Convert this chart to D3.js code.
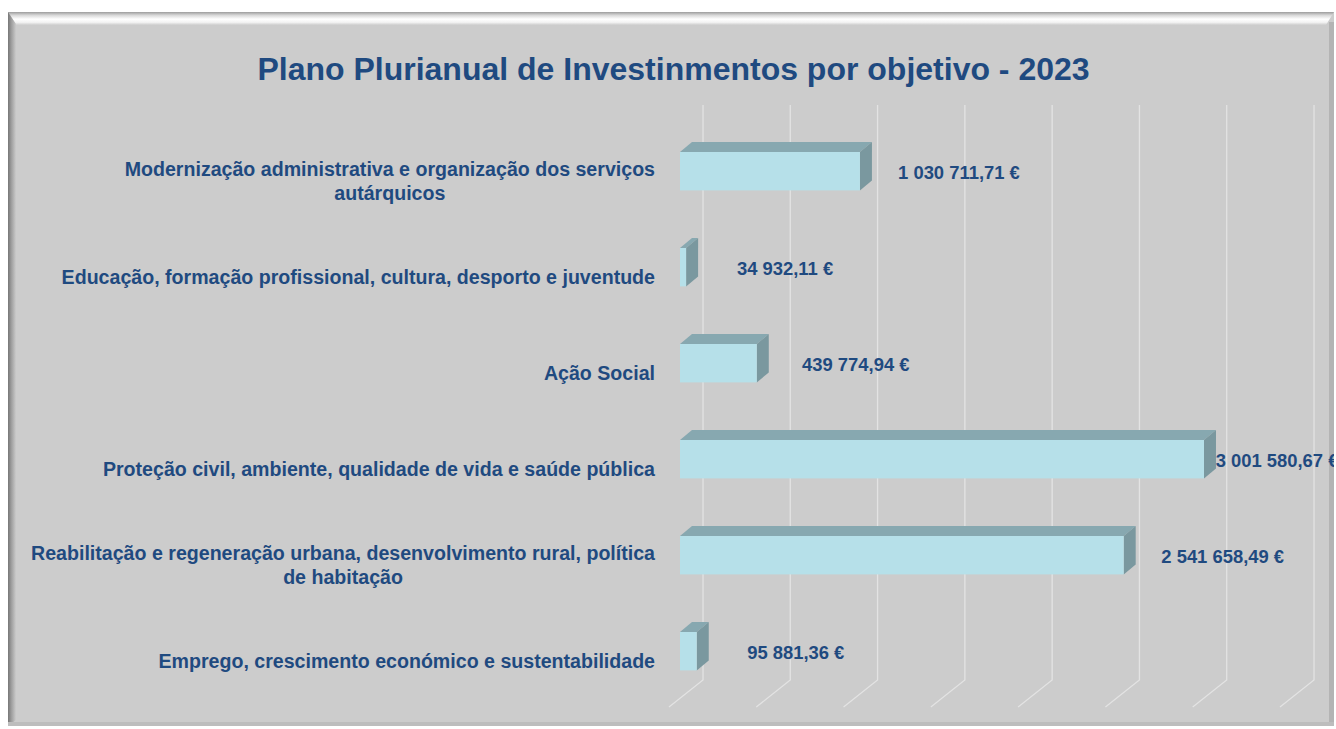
<!DOCTYPE html>
<html><head><meta charset="utf-8">
<script src="https://cdn.jsdelivr.net/npm/d3@7"></script>
<style>
html,body{margin:0;padding:0;background:#fff;}
svg{display:block;}
</style></head>
<body>
<svg id="c" width="1336" height="729"></svg>
<script>
const title = "Plano Plurianual de Investinmentos por objetivo - 2023";
const categories = [
  ["Modernização administrativa e organização dos serviços", "autárquicos"],
  ["Educação, formação profissional, cultura, desporto e juventude"],
  ["Ação Social"],
  ["Proteção civil, ambiente, qualidade de vida e saúde pública"],
  ["Reabilitação e regeneração urbana, desenvolvimento rural, política", "de habitação"],
  ["Emprego, crescimento económico e sustentabilidade"]
];
const values = [1030711.71, 34932.11, 439774.94, 3001580.67, 2541658.49, 95881.36];
const valueLabels = ["1 030 711,71 €", "34 932,11 €", "439 774,94 €", "3 001 580,67 €", "2 541 658,49 €", "95 881,36 €"];
const gridTicks = [0, 500000, 1000000, 1500000, 2000000, 2500000, 3000000, 3500000];

const W = 1336, H = 729;
const svg = d3.select("#c");
const ink = "#1f4a80";
const FF = "Liberation Sans, Arial, sans-serif";

// panel + bevel frame
const defs = svg.append("defs");
const lg = defs.append("linearGradient").attr("id","lsh").attr("x1",0).attr("x2",1).attr("y1",0).attr("y2",0);
lg.append("stop").attr("offset",0).attr("stop-color","#777777");
lg.append("stop").attr("offset",0.45).attr("stop-color","#a0a0a0");
lg.append("stop").attr("offset",1).attr("stop-color","#cbcbcb");
const tg = defs.append("linearGradient").attr("id","tsh").attr("x1",0).attr("x2",0).attr("y1",0).attr("y2",1);
tg.append("stop").attr("offset",0).attr("stop-color","#9c9c9c");
tg.append("stop").attr("offset",0.25).attr("stop-color","#d8d8d8");
tg.append("stop").attr("offset",0.55).attr("stop-color","#ffffff");
tg.append("stop").attr("offset",0.8).attr("stop-color","#f2f2f2");
tg.append("stop").attr("offset",1).attr("stop-color","#cdcdcd");

svg.append("rect").attr("x",0).attr("y",0).attr("width",W).attr("height",H).attr("fill","#ffffff");
svg.append("rect").attr("x",8).attr("y",12).attr("width",1326).attr("height",714).attr("fill","#cccccc");
svg.append("polygon").attr("points","8,12 1334,12 1326,25 16,25").attr("fill","url(#tsh)");
svg.append("polygon").attr("points","8,12 16,24 16,720 8,726").attr("fill","url(#lsh)");
svg.append("rect").attr("x",1329).attr("y",22).attr("width",5).attr("height",704).attr("fill","#b4b4b4");
svg.append("rect").attr("x",8).attr("y",722).attr("width",1326).attr("height",4).attr("fill","#bdbdbd");

svg.append("text").attr("x",673.5).attr("y",80).attr("text-anchor","middle")
  .attr("font-family",FF).attr("font-weight","bold")
  .attr("font-size",32).attr("fill",ink).text(title);

// scales
const x = d3.scaleLinear().domain([0, 3500000]).range([680, 1291]);
const y = d3.scaleBand().domain(d3.range(categories.length)).range([123.2, 699.2]).paddingInner(0.6).paddingOuter(0.3);

// depth offsets (3D)
const gdx = 23;              // back wall offset relative to bar front
const bdx = 12, bdy = -10;   // bar depth

// gridlines
const gTop = 105, gBot = 680;
const grid = svg.append("g");
gridTicks.forEach(t => {
  const bx = x(t) + gdx;
  grid.append("polyline")
    .attr("points", `${bx},${gTop} ${bx},${gBot} ${x(t)-11},${gBot+27}`)
    .attr("fill","none").attr("stroke","#e3e3e3").attr("stroke-width",1.3);
});

// clip
defs.append("clipPath").attr("id","clipP").append("rect").attr("x",8).attr("y",12).attr("width",1326).attr("height",714);
const g = svg.append("g").attr("clip-path","url(#clipP)");

values.forEach((v,i) => {
  const x0 = x(0), x1 = x(v), yt = y(i), yb = y(i) + y.bandwidth();
  g.append("polygon").attr("points",`${x0},${yt} ${x0+bdx},${yt+bdy} ${x1+bdx},${yt+bdy} ${x1},${yt}`).attr("fill","#87a8b0");
  g.append("polygon").attr("points",`${x1},${yt} ${x1+bdx},${yt+bdy} ${x1+bdx},${yb+bdy} ${x1},${yb}`).attr("fill","#7a989f");
  g.append("rect").attr("x",x0).attr("y",yt).attr("width",Math.max(0,x1-x0)).attr("height",yb-yt).attr("fill","#b6e0e9");
  const lx = Math.min(x1 + 99, W - 59);
  g.append("text").attr("x",lx).attr("y",yt + y.bandwidth()/2 + 1).attr("dy","0.36em")
    .attr("text-anchor","middle")
    .attr("font-family",FF).attr("font-weight","bold")
    .attr("font-size",18.4).attr("fill",ink).text(valueLabels[i]);
});

// category labels
const LFS = 19.6;
categories.forEach((lines,i) => {
  const cy = y(i) + y.bandwidth()/2 + 9.5;
  const lh = 24;
  const t = svg.append("text").attr("text-anchor","middle")
    .attr("font-family",FF).attr("font-weight","bold")
    .attr("font-size",LFS).attr("fill",ink);
  const n = lines.length;
  const tmp = svg.append("text").attr("font-family",FF).attr("font-weight","bold").attr("font-size",LFS).text(lines[0]);
  const w0 = tmp.node().getComputedTextLength(); tmp.remove();
  const cx = 655 - w0/2;
  lines.forEach((ln,k) => {
    t.append("tspan").attr("x",cx).attr("y",cy + (k-(n-1)/2)*lh).attr("dy","0.36em").text(ln);
  });
});
</script>
</body></html>
